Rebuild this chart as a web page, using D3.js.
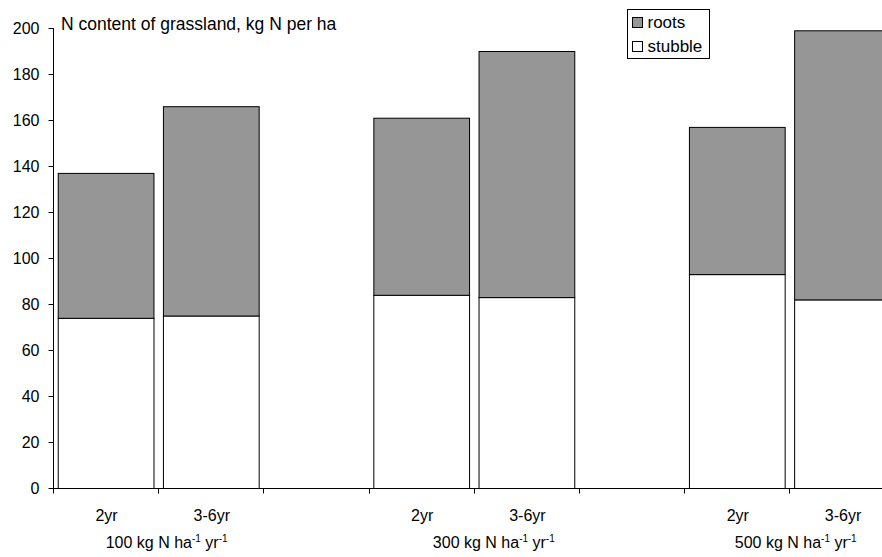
<!DOCTYPE html>
<html><head><meta charset="utf-8">
<script src="https://cdn.jsdelivr.net/npm/d3@7"></script>
<style>body{margin:0;background:#fff}svg{display:block}text{font-family:"Liberation Sans",Arial,sans-serif;fill:#000}</style>
</head><body><div id="c"></div>
<script>
const groups = ["100", "300", "500"];
const ages = ["2yr", "3-6yr"];
const slots = ["100|2yr", "100|3-6yr", "gapA", "300|2yr", "300|3-6yr", "gapB", "500|2yr", "500|3-6yr"];
const barKeys = ["100|2yr", "100|3-6yr", "300|2yr", "300|3-6yr", "500|2yr", "500|3-6yr"];
const stubble = [74, 75, 84, 83, 93, 82];
const roots = [63, 91, 77, 107, 64, 117];
const yTicks = [0, 20, 40, 60, 80, 100, 120, 140, 160, 180, 200];
const seriesNames = ["roots", "stubble"];
const seriesColors = ["#969696", "#ffffff"];

const W = 882, H = 557;
const svg = d3.select("#c").append("svg").attr("width", W).attr("height", H);
const x0 = 53, step = 105.2;
const x = d3.scaleBand().domain(slots).range([x0, x0 + step * slots.length]).padding(0);
const y = d3.scaleLinear().domain([0, 200]).range([488, 28]);
const bw = x.bandwidth();
const pad = bw * 0.045;

const data = barKeys.map((k, i) => ({key: k, stubble: stubble[i], roots: roots[i]}));
const stack = d3.stack().keys(["stubble", "roots"])(data);

const gBars = svg.append("g");
stack.forEach(layer => {
  gBars.selectAll(null).data(layer).enter().append("rect")
    .attr("x", d => x(d.data.key) + pad + 0.5)
    .attr("width", bw - 2 * pad)
    .attr("y", d => y(d[1]) + 0.5)
    .attr("height", d => y(d[0]) - y(d[1]))
    .attr("fill", layer.key === "roots" ? seriesColors[0] : seriesColors[1])
    .attr("stroke", "#000").attr("stroke-width", 1);
});

// y axis
const ya = svg.append("g").attr("transform", `translate(${x0 + 0.5},0)`)
  .call(d3.axisLeft(y).tickValues(yTicks).tickSize(5).tickPadding(9).tickFormat(d3.format("d")));
ya.select(".domain").attr("d", `M0,${y(200)}V${y(0)}`).attr("stroke", "#000");
ya.selectAll(".tick line").attr("stroke", "#000");
ya.selectAll("text").style("font-size", "16px").attr("font-family", null).attr("dy", "0.36em");

// x axis
const xa = svg.append("g").attr("transform", `translate(0,${y(0) + 0.5})`);
xa.append("line").attr("x1", x0).attr("x2", W).attr("stroke", "#000");
const bounds = slots.map(s => x(s)).concat([x(slots[slots.length - 1]) + bw]);
xa.selectAll(null).data(bounds).enter().append("line")
  .attr("x1", d => Math.round(d) + 0.5).attr("x2", d => Math.round(d) + 0.5)
  .attr("y1", 0).attr("y2", 5).attr("stroke", "#000");

// category labels
svg.selectAll(null).data(barKeys).enter().append("text")
  .attr("x", d => x(d) + bw / 2 + 1).attr("y", 521)
  .attr("text-anchor", "middle").style("font-size", "16px")
  .text(d => d.split("|")[1]);

// group labels
const groupLabelShift = [1.08, 1.19, 1.06];
groups.forEach((g, i) => {
  const cx = x(g + "|2yr") + bw * groupLabelShift[i];
  const t = svg.append("text").attr("x", cx).attr("y", 548)
    .attr("text-anchor", "middle").style("font-size", "16px");
  t.append("tspan").text(g + " kg N ha");
  t.append("tspan").attr("dy", -6).style("font-size", "10px").text("-1");
  t.append("tspan").attr("dy", 6).text(" yr");
  t.append("tspan").attr("dy", -6).style("font-size", "10px").text("-1");
});

// title
svg.append("text").attr("x", 61).attr("y", 30).style("font-size", "17.5px")
  .text("N content of grassland, kg N per ha");

// legend
const lg = svg.append("g").attr("transform", "translate(627.5,9.5)");
lg.append("rect").attr("width", 82).attr("height", 49).attr("fill", "#fff").attr("stroke", "#000");
seriesNames.forEach((n, i) => {
  const yy = 8 + i * 24;
  lg.append("rect").attr("x", 5).attr("y", yy).attr("width", 10).attr("height", 10)
    .attr("fill", seriesColors[i]).attr("stroke", "#000");
  lg.append("text").attr("x", 20).attr("y", yy + 10).style("font-size", "17px").text(n);
});
</script></body></html>
